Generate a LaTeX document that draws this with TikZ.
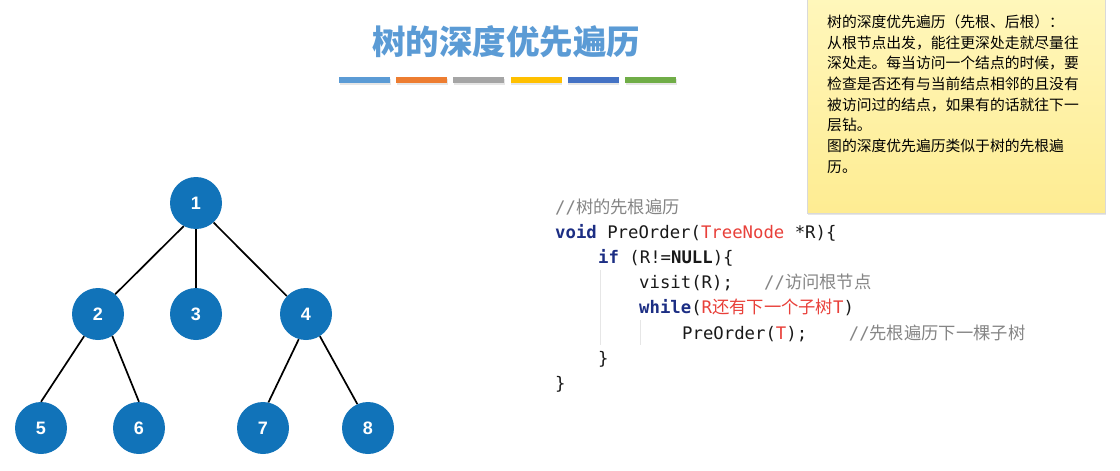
\documentclass[tikz,border=0pt]{standalone}
\usepackage{fontspec}
\setsansfont{Liberation Sans}
\setmonofont{DejaVu Sans Mono}
\newfontfamily\cjk{Noto Sans CJK SC}
\usepackage{tikz}
\usetikzlibrary{shadows}

\definecolor{titleblue}{HTML}{5B9BD5}
\definecolor{nodeblue}{HTML}{1173B9}
\definecolor{keyblue}{HTML}{1C2E84}
\definecolor{codered}{HTML}{E8403A}
\definecolor{codegray}{HTML}{858585}
\definecolor{guidegray}{HTML}{E6E6E6}
\definecolor{notetop}{HTML}{FFF7BC}
\definecolor{notebot}{HTML}{FEEC92}
\definecolor{barA}{HTML}{5B9BD5}
\definecolor{barB}{HTML}{ED7D31}
\definecolor{barC}{HTML}{A5A5A5}
\definecolor{barD}{HTML}{FFC000}
\definecolor{barE}{HTML}{4472C4}
\definecolor{barF}{HTML}{70AD47}

\newcommand{\kw}[1]{{\color{keyblue}\bfseries #1}}
\newcommand{\rd}[1]{{\color{codered}#1}}
\newcommand{\cm}[1]{{\color{codegray}#1}}

\begin{document}
\begin{tikzpicture}[x=1pt, y=-1pt,
    tnode/.style={circle, fill=nodeblue, minimum size=52pt, inner sep=0pt,
        text=white, font=\sffamily\bfseries\fontsize{18}{20}\selectfont},
    edge/.style={line width=1.7pt},
    codeline/.style={anchor=base west, inner sep=0pt, text=black!90,
        font=\ttfamily\fontsize{17.3}{20}\selectfont},
    guide/.style={guidegray, line width=0.8pt}]
    \useasboundingbox (0, 0) rectangle (1120, 471);

    % title and colour bars
    \node[text=titleblue, font=\cjk\bfseries\fontsize{33.5}{38}\selectfont] (title) at (506, 42) {树的深度优先遍历};
    \foreach \c [count=\i from 0] in {barA, barB, barC, barD, barE, barF}
        \fill[\c, drop shadow={opacity=0.2, shadow xshift=0.5pt, shadow yshift=-1.5pt}]
            (339+57.2*\i, 77) rectangle ++(51, 6);

    % tree
    \node[tnode] (n1) at (196, 203) {1};
    \node[tnode] (n2) at (98, 314) {2};
    \node[tnode] (n3) at (196, 314) {3};
    \node[tnode] (n4) at (306, 314) {4};
    \node[tnode] (n5) at (41, 428) {5};
    \node[tnode] (n6) at (139, 428) {6};
    \node[tnode] (n7) at (263, 428) {7};
    \node[tnode] (n8) at (368, 428) {8};
    \draw[edge] (n1.-118) -- (n2.49);
    \draw[edge] (n1.south) -- (n3.north);
    \draw[edge] (n1.-48) -- (n4.137);
    \draw[edge] (n2.-122) -- (n5.north);
    \draw[edge] (n2.-57) -- (n6.north);
    \draw[edge] (n4.-106) -- (n7.78);
    \draw[edge] (n4.-58) -- (n8.114);

    % note
    \shade[top color=notetop, bottom color=notebot, draw=black!15, line width=0.5pt,
        drop shadow={opacity=0.2, shadow xshift=1pt, shadow yshift=-1.5pt}]
        (807, -5) rectangle (1105, 213);
    \node[anchor=north west, inner sep=0pt, align=left,
        font=\cjk\fontsize{14.8}{20.7}\selectfont] (note) at (827, 14.6)
        {树的深度优先遍历（先根、后根）：\\
         从根节点出发，能往更深处走就尽量往\\
         深处走。每当访问一个结点的时候，要\\
         检查是否还有与当前结点相邻的且没有\\
         被访问过的结点，如果有的话就往下一\\
         层钻。\\
         图的深度优先遍历类似于树的先根遍\\
         历。};

    % code
    \draw[guide] (600, 270) -- (600, 345);
    \draw[guide] (640, 320) -- (640, 345);
    \node[codeline] (c1) at (555, 213) {\cm{//{\cjk 树的先根遍历}}};
    \node[codeline] (c2) at (555, 238) {\kw{void} PreOrder(\rd{TreeNode} *R)\{};
    \node[codeline] (c3) at (598, 263) {\kw{if} (R!=\textbf{NULL})\{};
    \node[codeline] (c4) at (639, 288) {visit(R);\ \ \ \cm{//{\cjk 访问根节点}}};
    \node[codeline] (c5) at (639, 313) {\kw{while}(\rd{R{\cjk 还有下一个子树}T})};
    \node[codeline] (c6) at (682, 339) {PreOrder(\rd{T});\ \ \ \ \cm{//{\cjk 先根遍历下一棵子树}}};
    \node[codeline] (c7) at (598, 364) {\}};
    \node[codeline] (c8) at (555, 389) {\}};
\end{tikzpicture}
\end{document}
